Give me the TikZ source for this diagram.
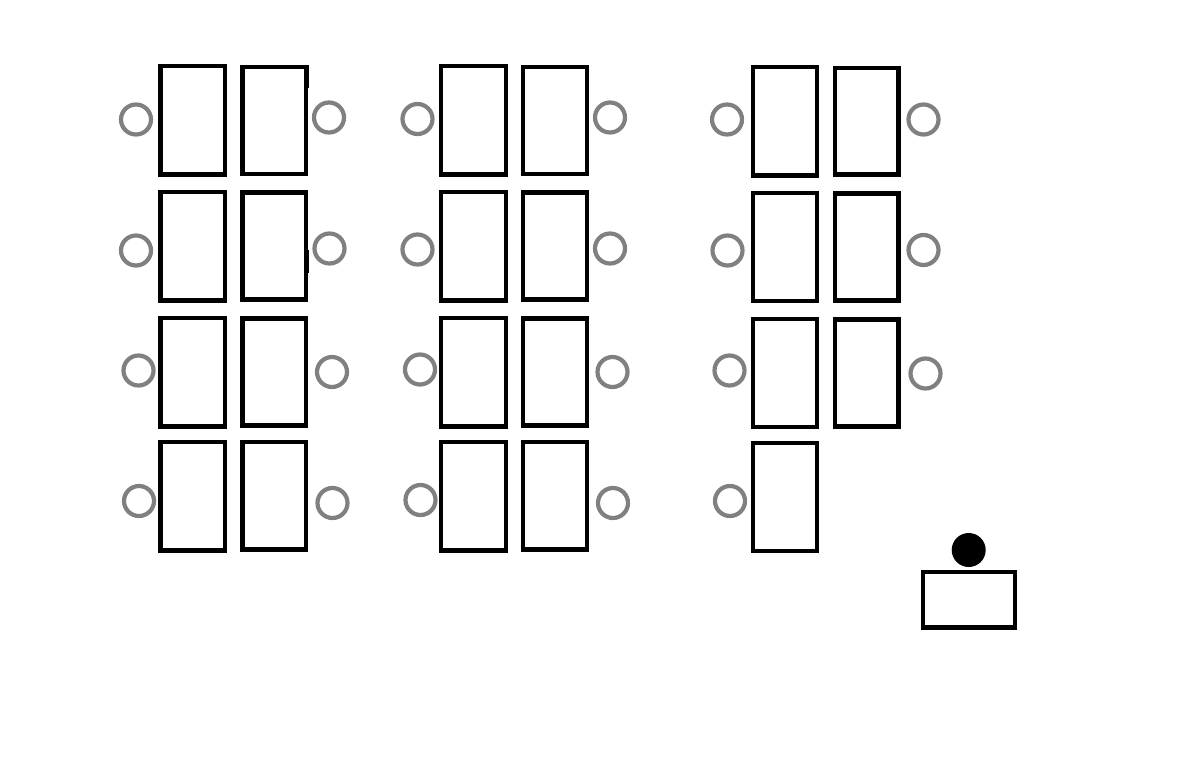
\documentclass[tikz,border=0pt]{standalone}
\definecolor{seatgray}{RGB}{128,128,128}
\tikzset{
  x=0.0254cm,y=-0.0254cm,
  desk/.style={draw=black,line width=4.3*0.0254cm},
  seat/.style={draw=seatgray,line width=4.2*0.0254cm}
}
\newcommand{\dk}[4]{\draw[desk] (#1,#2) rectangle (#3,#4);}
\newcommand{\st}[2]{\draw[seat] (#1,#2) circle (15);}
\begin{document}
\begin{tikzpicture}
\useasboundingbox (0,0) rectangle (1200,783);
% column 1
\dk{160.5}{66.2}{225}{174.5} \dk{242.5}{67}{306.3}{174}
\dk{160.5}{192}{225}{300.5} \dk{242.5}{192.5}{306.3}{299.5}
\dk{160.5}{318}{225}{426.5} \dk{242.5}{318.5}{306.3}{425.5}
\dk{160.5}{442}{225}{550.5} \dk{242.5}{442}{306.3}{549.5}
\fill[black] (305,65) rectangle (308.5,88);
\fill[black] (305,250) rectangle (308.5,273);
% column 2
\dk{441.3}{66.2}{506}{174.5} \dk{523}{67}{587.3}{174}
\dk{441.3}{192}{506}{300.5} \dk{523}{192.5}{587.3}{299.5}
\dk{441.3}{318}{506}{426.5} \dk{523}{318.5}{587.3}{425.5}
\dk{441.3}{442}{506}{550.5} \dk{523}{442}{587.3}{549.5}
% column 3
\dk{752.8}{67.2}{817.3}{175.5} \dk{834.8}{68}{898.5}{174.5}
\dk{752.8}{193}{817.3}{300.8} \dk{834.8}{193.5}{898.5}{300.5}
\dk{752.8}{319}{817.3}{427} \dk{834.8}{319.5}{898.5}{426.5}
\dk{752.8}{443}{817.3}{551}
% teacher desk
\dk{923}{572}{1015}{627.5}
\fill[black] (968.7,550) circle (17);
% seats
\st{136}{119.5}\st{329}{117.5}\st{417.5}{119}\st{610}{117.5}\st{727}{119.5}\st{923.5}{119.5}
\st{136}{250.5}\st{329.5}{248.5}\st{417.5}{249.5}\st{610}{248.5}\st{727.5}{250.5}\st{923.5}{250}
\st{138.5}{370.5}\st{332}{372}\st{420}{369.5}\st{612.5}{372}\st{729.5}{370.5}\st{925.5}{373.5}
\st{139}{501}\st{332.5}{503}\st{420.5}{500}\st{613}{503}\st{730}{501}
\end{tikzpicture}
\end{document}
